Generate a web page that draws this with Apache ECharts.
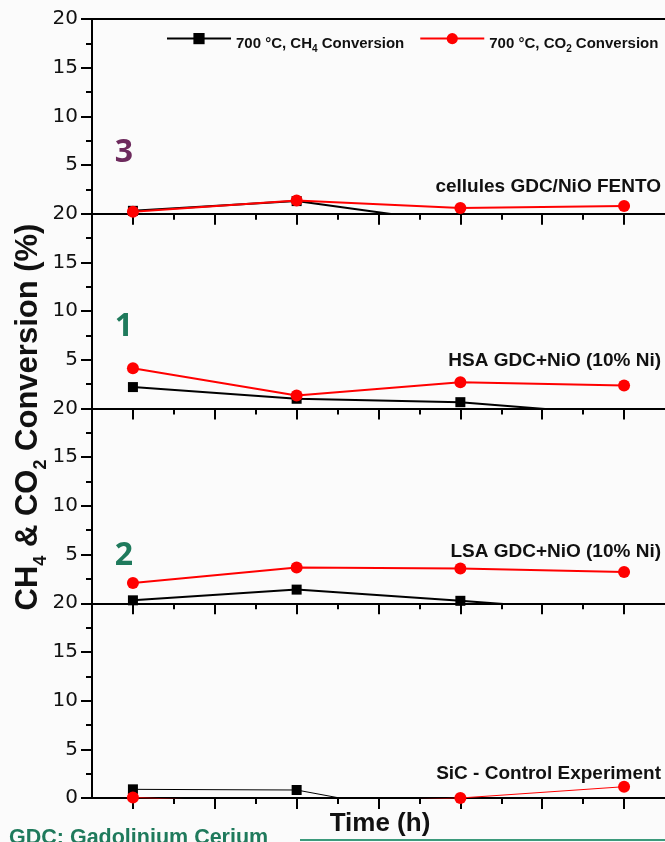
<!DOCTYPE html>
<html><head><meta charset="utf-8">
<script src="https://cdn.jsdelivr.net/npm/echarts@6/dist/echarts.min.js"></script>
<style>html,body{margin:0;padding:0;background:#fbfbfb}#c{width:665px;height:842px}</style>
</head><body><div id="c"></div>
<script>
// ---- data ----
const timeH = [1, 3, 5, 7];
const panelNames = ['cellules GDC/NiO FENTO', 'HSA GDC+NiO (10% Ni)', 'LSA GDC+NiO (10% Ni)', 'SiC - Control Experiment'];
const panelTags = ['3', '1', '2', ''];
const ch4Fento = [0.3, 1.3, -1.0, -1.0];
const co2Fento = [0.2, 1.35, 0.6, 0.8];
const ch4Hsa = [2.2, 1.0, 0.65, -0.7];
const co2Hsa = [4.13, 1.33, 2.7, 2.36];
const ch4Lsa = [0.3, 1.4, 0.25, -1.0];
const co2Lsa = [2.08, 3.66, 3.56, 3.2];
const ch4Sic = [0.89, 0.82, -2.3, -2.0];
const co2Sic = [0.05, -0.6, 0.0, 1.16];
const yTickValues = [0, 5, 10, 15, 20];
const xMajorTicks = [1, 2, 3, 4, 5, 6, 7];
const xMinorTicks = [1.5, 2.5, 3.5, 4.5, 5.5, 6.5];
const CH4_NAME = '700 °C, CH4 Conversion';
const CO2_NAME = '700 °C, CO2 Conversion';

const ch4Sets = [ch4Fento, ch4Hsa, ch4Lsa, ch4Sic];
const co2Sets = [co2Fento, co2Hsa, co2Lsa, co2Sic];

// ---- layout ----
const FONT = 'Liberation Sans, Arial, sans-serif';
const GL = 92, GW = 574, TOP0 = 19, PH = 194.75;
const tagColors = ['#6d2a5d', '#1f7a5c', '#1f7a5c', '#1f7a5c'];
const tagY = [153, 327, 556, 0];
const nameY = [187, 361, 552, 774];

const grids = [], xAxes = [], yAxes = [], series = [], graphics = [];
const axisColor = '#000';
for (let i = 0; i < 4; i++) {
  grids.push({left: GL, width: GW, top: TOP0 + PH * i, height: PH});
  xAxes.push({
    gridIndex: i, type: 'value', min: 0.5, max: 7.5, position: 'bottom',
    axisLine: {show: true, onZero: false, lineStyle: {color: axisColor, width: 2}},
    axisTick: {show: true, customValues: xMajorTicks, length: 11, lineStyle: {color: axisColor, width: 2}},
    axisLabel: {show: false}, splitLine: {show: false}
  });
  xAxes.push({
    gridIndex: i, type: 'value', min: 0.5, max: 7.5, position: 'bottom',
    axisLine: {show: false, onZero: false},
    axisTick: {show: true, customValues: xMinorTicks, length: 6, lineStyle: {color: axisColor, width: 2}},
    axisLabel: {show: false}, splitLine: {show: false}
  });
  yAxes.push({
    gridIndex: i, type: 'value', min: 0, max: 20, interval: 5,
    axisLine: {show: true, onZero: false, lineStyle: {color: axisColor, width: 2}},
    axisTick: {show: true, length: 11, lineStyle: {color: axisColor, width: 2}},
    minorTick: {show: true, splitNumber: 2, length: 6, lineStyle: {color: axisColor, width: 2}},
    axisLabel: {
      show: true, margin: 14, fontSize: 20, color: '#111', fontFamily: 'DejaVu Sans, sans-serif',
      formatter: (v) => (v === 0 && i < 3) ? '' : String(v)
    },
    splitLine: {show: false}
  });
  const lw = i === 3 ? 1 : 2;
  series.push({
    name: CH4_NAME, type: 'line', xAxisIndex: 2 * i, yAxisIndex: i,
    data: timeH.map((t, k) => [t, ch4Sets[i][k]]),
    symbol: 'rect', symbolSize: 10, color: '#000',
    lineStyle: {color: '#000', width: lw}, itemStyle: {color: '#000'},
    clip: true, z: 3
  });
  series.push({
    name: CO2_NAME, type: 'line', xAxisIndex: 2 * i, yAxisIndex: i,
    data: timeH.map((t, k) => [t, co2Sets[i][k]]),
    symbol: 'circle', symbolSize: 12, color: '#ff0000',
    lineStyle: {color: '#ff0000', width: lw}, itemStyle: {color: '#ff0000'},
    clip: true, z: 4
  });
  graphics.push({
    type: 'text', x: 661, y: nameY[i],
    style: {text: panelNames[i], font: 'bold 19px ' + FONT, fill: '#111', textAlign: 'right', textVerticalAlign: 'middle'}
  });
  if (panelTags[i]) {
    graphics.push({
      type: 'text', x: 124, y: tagY[i],
      style: {text: panelTags[i], font: 'bold 32px "Open Sans", sans-serif', fill: tagColors[i], textAlign: 'center', textVerticalAlign: 'middle'}
    });
  }
}
// top border of the first panel
xAxes.push({
  gridIndex: 0, type: 'value', min: 0.5, max: 7.5, position: 'top',
  axisLine: {show: true, onZero: false, lineStyle: {color: axisColor, width: 2}},
  axisTick: {show: false}, axisLabel: {show: false}, splitLine: {show: false}
});

// axis titles and footer
graphics.push({
  type: 'text', x: 27, y: 417, rotation: Math.PI / 2,
  style: {
    text: '{b|CH}{s|4}{b| & CO}{s|2}{b| Conversion (%)}',
    textAlign: 'center', textVerticalAlign: 'middle',
    rich: {
      b: {font: 'bold 31px ' + FONT, fill: '#111', lineHeight: 34, verticalAlign: 'bottom'},
      s: {font: 'bold 18px ' + FONT, fill: '#111', lineHeight: 34, verticalAlign: 'bottom', padding: [0, 0, -6, 0]}
    }
  }
});
graphics.push({
  type: 'text', x: 380, y: 824,
  style: {text: 'Time (h)', font: 'bold 26px ' + FONT, fill: '#111', textAlign: 'center', textVerticalAlign: 'middle'}
});
graphics.push({
  type: 'text', x: 9, y: 838,
  style: {text: 'GDC: Gadolinium Cerium', font: 'bold 21.5px ' + FONT, fill: '#1f7a5c', textAlign: 'left', textVerticalAlign: 'middle'}
});
graphics.push({
  type: 'line', shape: {x1: 300, y1: 840, x2: 665, y2: 840},
  style: {stroke: '#3c9a7c', lineWidth: 2}
});

const chart = echarts.init(document.getElementById('c'), null, {renderer: 'canvas'});
chart.setOption({
  backgroundColor: '#fbfbfb',
  animation: false,
  grid: grids, xAxis: xAxes, yAxis: yAxes, series: series,
  legend: {
    left: 166, top: 33, padding: 0, itemWidth: 64, itemHeight: 14, itemGap: 15,
    data: [CH4_NAME, CO2_NAME],
    formatter: (name) => name === CH4_NAME
      ? '{b|700 °C, CH}{s|4}{b| Conversion}'
      : '{b|700 °C, CO}{s|2}{b| Conversion}',
    textStyle: {
      padding: [8, 0, 0, 0],
      rich: {
        b: {fontSize: 15, fontWeight: 'bold', fontFamily: FONT, color: '#111', lineHeight: 18, verticalAlign: 'bottom'},
        s: {fontSize: 10, fontWeight: 'bold', fontFamily: FONT, color: '#111', lineHeight: 18, verticalAlign: 'bottom', padding: [0, 0, -3, 0]}
      }
    }
  },
  graphic: graphics
});
</script>
</body></html>
